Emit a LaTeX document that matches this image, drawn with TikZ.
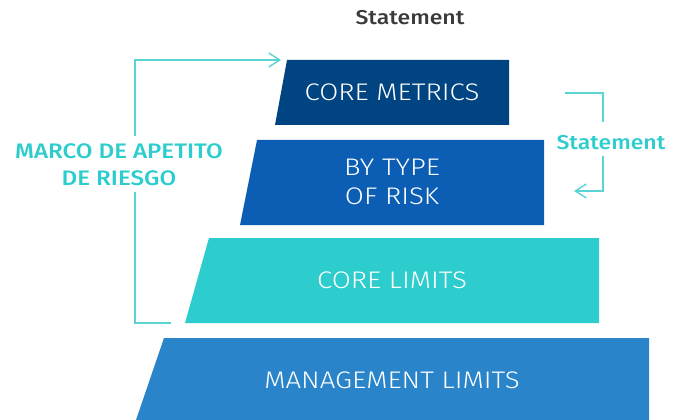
\documentclass[tikz,border=0pt]{standalone}
\usepackage{fontspec}
\setmainfont{Fira Sans}
\newfontfamily\lightfont[FakeStretch=1.15]{Fira Sans Light}
\newfontfamily\medfont[FakeStretch=1.15]{Fira Sans Medium}
\usetikzlibrary{arrows.meta}
\definecolor{navy}{HTML}{004481}
\definecolor{midblue}{HTML}{0B5EB3}
\definecolor{aqua}{HTML}{2DCCCD}
\definecolor{mgmt}{HTML}{2A84C9}
\definecolor{aqualine}{HTML}{5AD3D3}
\definecolor{darkgray}{HTML}{3A3A3A}
\begin{document}
\begin{tikzpicture}[x=1pt,y=-1pt,
  boxtext/.style={text=white,font=\lightfont\fontsize{24}{29}\selectfont,align=center,inner sep=0pt},
  sidelabel/.style={text=aqua,font=\medfont\fontsize{21}{27}\selectfont,align=center,inner sep=0pt},
  bracket/.style={draw=aqualine,line width=1.4pt},
  tip/.style={-{Straight Barb[length=11pt,width=14pt,line width=1.4pt]}}]
\useasboundingbox (0,0) rectangle (681,420);
% tiers
\fill[navy] (287,60) -- (509,60) -- (509,125) -- (275,125) -- cycle;
\fill[midblue] (257,140) -- (544,140) -- (544,225) -- (240,225) -- cycle;
\fill[aqua] (209,238) -- (599,238) -- (599,323) -- (185,323) -- cycle;
\fill[mgmt] (164,338) -- (649,338) -- (649,420) -- (136,420) -- cycle;
% texts
\node[boxtext] (cm) at (392,92) {CORE METRICS};
\node[boxtext] (bt) at (392,182) {BY TYPE\\OF RISK};
\node[boxtext] (cl) at (392,280) {CORE LIMITS};
\node[boxtext] (ml) at (392,380) {MANAGEMENT LIMITS};
\node[font=\medfont\fontsize{20}{22}\selectfont,text=darkgray,inner sep=0pt] (st) at (410,18) {Statement};
\node[sidelabel] (marco) at (119,165) {MARCO DE APETITO\\DE RIESGO};
\node[text=aqua,font=\medfont\fontsize{20}{22}\selectfont,inner sep=0pt] (st2) at (611,143) {Statement};
% left bracket
\coordinate (lb) at (171,323);
\coordinate (lc) at (135,323);
\coordinate (lg2) at (135,192);
\coordinate (lg1) at (135,136);
\coordinate (lt) at (135,60);
\coordinate (la) at (281,60);
\draw[bracket] (lb) -- (lc) -- (lg2);
\draw[bracket,tip] (lg1) -- (lt) -- (la);
% right bracket
\coordinate (ra) at (565,93);
\coordinate (rb) at (603,93);
\coordinate (rc) at (603,122);
\coordinate (rd) at (603,156);
\coordinate (re) at (603,191);
\coordinate (rf) at (574,191);
\draw[bracket] (ra) -- (rb) -- (rc);
\draw[bracket,tip] (rd) -- (re) -- (rf);
\end{tikzpicture}
\end{document}
